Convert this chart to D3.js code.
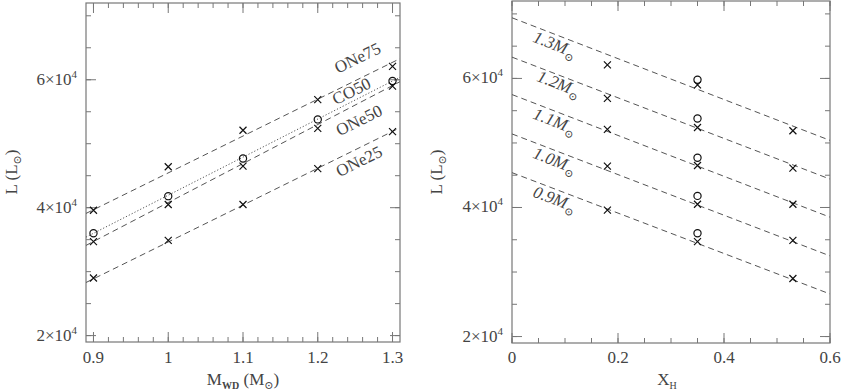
<!DOCTYPE html>
<html>
<head>
<meta charset="utf-8">
<script src="https://cdn.jsdelivr.net/npm/d3@7"></script>
<style>
  body { margin: 0; background: #fff; }
  svg { display: block; font-family: "Liberation Serif", "DejaVu Serif", serif; }
</style>
</head>
<body>
<svg id="chart" width="842" height="391"></svg>
<script>
// white dwarf masses (Msun) and luminosities (units of 1e4 Lsun)
const masses = [0.9, 1.0, 1.1, 1.2, 1.3];
const lumONe75 = [3.96, 4.64, 5.21, 5.69, 6.21];
const lumCO50 = [3.60, 4.18, 4.77, 5.38, 5.98];
const lumONe50 = [3.47, 4.05, 4.65, 5.24, 5.90];
const lumONe25 = [2.90, 3.49, 4.05, 4.61, 5.19];

// hydrogen fraction for each model family
const xhONe75 = 0.18;
const xhCO50 = 0.35;
const xhONe50 = 0.35;
const xhONe25 = 0.53;

// fitted lines, left panel: values at M = 0.89 and M = 1.31
const fitMassEnds = [0.89, 1.31];
const fitONe75 = [3.91, 6.33];
const fitCO50 = [3.54, 6.04];
const fitONe50 = [3.41, 5.97];
const fitONe25 = [2.83, 5.25];

// fitted lines, right panel: values at X_H = 0 and X_H = 0.6, one per mass
const fitXhEnds = [0, 0.6];
const fitXhStart = [4.54, 5.14, 5.75, 6.33, 6.94];
const fitXhEnd = [2.66, 3.25, 3.85, 4.44, 5.04];
const massLabels = ["0.9", "1.0", "1.1", "1.2", "1.3"];

const lumMajor = [2, 4, 6];
const lumMinor = d3.range(2, 7.01, 0.5);
const massMajor = [0.9, 1.0, 1.1, 1.2, 1.3];
const massMinor = d3.range(0.9, 1.311, 0.02);
const xhMajor = [0, 0.2, 0.4, 0.6];
const xhMinor = d3.range(0, 0.601, 0.05);

const svg = d3.select("#chart");
const frameColor = "#777";
const textColor = "#444";
const lineColor = "#555";

function drawFrame(g, x, y, xMajor, xMinor, xFormat) {
  const [x0, x1] = x.range();
  const [y0, y1] = y.range();

  g.append("rect")
    .attr("x", x0).attr("y", y1)
    .attr("width", x1 - x0).attr("height", y0 - y1)
    .attr("fill", "none")
    .attr("stroke", frameColor)
    .attr("stroke-width", 1.2);

  const ticks = g.append("g").attr("stroke", frameColor).attr("stroke-width", 1);

  const xt = [...xMinor.map(v => [v, 5]), ...xMajor.map(v => [v, 10])];
  xt.forEach(([v, len]) => {
    ticks.append("line").attr("x1", x(v)).attr("x2", x(v)).attr("y1", y0).attr("y2", y0 - len);
    ticks.append("line").attr("x1", x(v)).attr("x2", x(v)).attr("y1", y1).attr("y2", y1 + len);
  });
  const yt = [...lumMinor.map(v => [v, 5]), ...lumMajor.map(v => [v, 10])];
  yt.forEach(([v, len]) => {
    ticks.append("line").attr("y1", y(v)).attr("y2", y(v)).attr("x1", x0).attr("x2", x0 + len);
    ticks.append("line").attr("y1", y(v)).attr("y2", y(v)).attr("x1", x1).attr("x2", x1 - len);
  });

  g.selectAll(".xlab")
    .data(xMajor)
    .enter()
    .append("text")
    .attr("x", d => x(d))
    .attr("y", 363)
    .attr("text-anchor", "middle")
    .attr("font-size", "17px")
    .attr("fill", textColor)
    .text(xFormat);

  const yl = g.selectAll(".ylab")
    .data(lumMajor)
    .enter()
    .append("text")
    .attr("x", x0 - 9)
    .attr("y", d => y(d) + 5)
    .attr("text-anchor", "end")
    .attr("font-size", "17px")
    .attr("fill", textColor);
  yl.append("tspan").text(d => d + "×10");
  yl.append("tspan").attr("dy", -7).attr("font-size", "11px").text("4");
}

function yTitle(g, x, cy) {
  const t = g.append("text")
    .attr("transform", `translate(${x}, ${cy}) rotate(-90)`)
    .attr("text-anchor", "middle")
    .attr("font-size", "17px")
    .attr("fill", textColor);
  t.append("tspan").text("L (L");
  t.append("tspan").attr("dy", 4).attr("font-size", "11px").text("⊙");
  t.append("tspan").attr("dy", -4).text(")");
}

function cross(g, px, py) {
  const s = 3.5;
  g.append("path")
    .attr("d", `M${px - s},${py - s}L${px + s},${py + s}M${px - s},${py + s}L${px + s},${py - s}`)
    .attr("stroke", "#111")
    .attr("stroke-width", 1.2)
    .attr("fill", "none");
}

function ring(g, px, py) {
  g.append("circle")
    .attr("cx", px).attr("cy", py).attr("r", 3.6)
    .attr("fill", "none")
    .attr("stroke", "#111")
    .attr("stroke-width", 1.2);
}

// ---------- left panel: L vs M_WD ----------
const xL = d3.scaleLinear().domain([0.89, 1.31]).range([86, 400]);
const yL = d3.scaleLinear().domain([1.9, 7.2]).range([342, 3]);
const left = svg.append("g");

drawFrame(left, xL, yL, massMajor, massMinor, d => d === 1 ? "1" : d3.format(".1f")(d));

const leftSeries = [
  { name: "ONe75", lum: lumONe75, fit: fitONe75, dash: "6,4", marker: "x" },
  { name: "CO50", lum: lumCO50, fit: fitCO50, dash: "1.2,2", marker: "o" },
  { name: "ONe50", lum: lumONe50, fit: fitONe50, dash: "6,4", marker: "x" },
  { name: "ONe25", lum: lumONe25, fit: fitONe25, dash: "6,4", marker: "x" }
];
// label offset from its line, px (negative = above)
const labelDy = { ONe75: -22, CO50: -11, ONe50: 17, ONe25: 13 };
const labelMass = { ONe75: 1.253, CO50: 1.245, ONe50: 1.255, ONe25: 1.255 };

leftSeries.forEach(s => {
  left.append("line")
    .attr("x1", xL(fitMassEnds[0])).attr("y1", yL(s.fit[0]))
    .attr("x2", xL(fitMassEnds[1])).attr("y2", yL(s.fit[1]))
    .attr("stroke", lineColor)
    .attr("stroke-width", 1)
    .attr("stroke-dasharray", s.dash);

  masses.forEach((m, i) => {
    if (s.marker === "x") cross(left, xL(m), yL(s.lum[i]));
    else ring(left, xL(m), yL(s.lum[i]));
  });

  const m = labelMass[s.name];
  const t = (m - fitMassEnds[0]) / (fitMassEnds[1] - fitMassEnds[0]);
  const ly = yL(s.fit[0] + t * (s.fit[1] - s.fit[0])) + labelDy[s.name];
  left.append("text")
    .attr("transform", `translate(${xL(m)}, ${ly}) rotate(-26.3)`)
    .attr("dy", "0.35em")
    .attr("text-anchor", "middle")
    .attr("font-size", "17px")
    .attr("fill", textColor)
    .text(s.name);
});

yTitle(left, 17, 172);
const tl = left.append("text")
  .attr("x", 243).attr("y", 385)
  .attr("text-anchor", "middle")
  .attr("font-size", "17px")
  .attr("fill", textColor);
tl.append("tspan").text("M");
tl.append("tspan").attr("dy", 4).attr("font-size", "10px").attr("font-weight", "bold").text("WD");
tl.append("tspan").attr("dy", -4).text(" (M");
tl.append("tspan").attr("dy", 4).attr("font-size", "11px").text("⊙");
tl.append("tspan").attr("dy", -4).text(")");

// ---------- right panel: L vs X_H ----------
const xR = d3.scaleLinear().domain([0, 0.6]).range([512, 830]);
const yR = d3.scaleLinear().domain([1.9, 7.2]).range([343, 1]);
const right = svg.append("g");

drawFrame(right, xR, yR, xhMajor, xhMinor, d => d === 0 ? "0" : d3.format(".1f")(d));

masses.forEach((m, i) => {
  right.append("line")
    .attr("x1", xR(fitXhEnds[0])).attr("y1", yR(fitXhStart[i]))
    .attr("x2", xR(fitXhEnds[1])).attr("y2", yR(fitXhEnd[i]))
    .attr("stroke", lineColor)
    .attr("stroke-width", 1)
    .attr("stroke-dasharray", "6,4");

  cross(right, xR(xhONe75), yR(lumONe75[i]));
  cross(right, xR(xhONe50), yR(lumONe50[i]));
  ring(right, xR(xhCO50), yR(lumCO50[i]));
  cross(right, xR(xhONe25), yR(lumONe25[i]));

  const lx = 0.077;
  const ly = yR(fitXhStart[i] + lx / 0.6 * (fitXhEnd[i] - fitXhStart[i])) + 12;
  const t = right.append("text")
    .attr("transform", `translate(${xR(lx) + (i === 3 ? 4 : 0)}, ${ly + 4}) rotate(21.1)`)
    .attr("text-anchor", "middle")
    .attr("font-size", "17px")
    .attr("font-style", "italic")
    .attr("fill", textColor);
  t.append("tspan").text(massLabels[i] + "M");
  t.append("tspan").attr("dy", 5).attr("font-size", "11px").attr("font-style", "normal").text("⊙");
});

yTitle(right, 442, 172);
const tr = right.append("text")
  .attr("x", 667).attr("y", 385)
  .attr("text-anchor", "middle")
  .attr("font-size", "17px")
  .attr("fill", textColor);
tr.append("tspan").text("X");
tr.append("tspan").attr("dy", 4).attr("font-size", "10px").text("H");
</script>
</body>
</html>
